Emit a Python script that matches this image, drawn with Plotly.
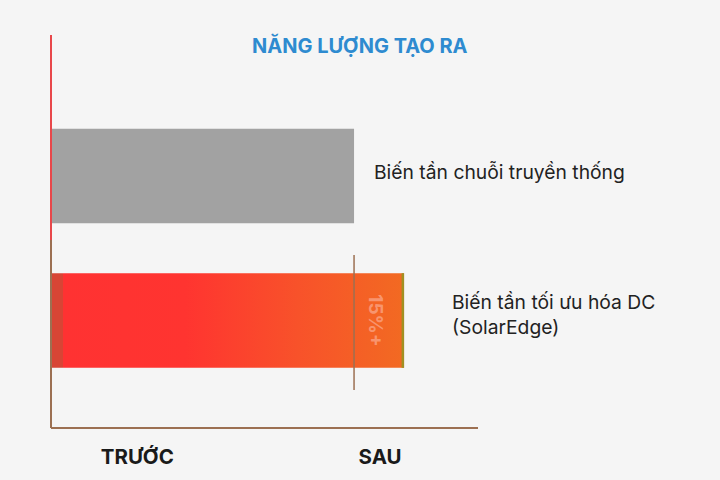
import plotly.graph_objects as go

# ---- data ----
categories = ["Biến tần tối ưu hóa DC<br>(SolarEdge)", "Biến tần chuỗi truyền thống"]
values = [116.5, 100]
baseline_value = 100
gain_label = "15%+"
x_tick_positions = [28.5, 108.6]
x_tick_labels = ["TRƯỚC", "SAU"]
title_text = "NĂNG LƯỢNG TẠO RA"

BG = "#F5F5F5"
BROWN = "#9C7052"
RED_LINE = "#E8474A"
BAR_W = 0.655
y_pos = [0, 1]

fig = go.Figure()

# gray bar (traditional)
fig.add_trace(go.Bar(
    x=[values[1]], y=[y_pos[1]], orientation="h", width=BAR_W,
    marker=dict(color="#A2A2A2", line=dict(width=0)), hoverinfo="skip"))

# gradient bar (SolarEdge) as filled polygon built from its value
v = values[0]
y0 = y_pos[0]
fig.add_trace(go.Scatter(
    x=[0, v, v, 0, 0],
    y=[y0 - BAR_W / 2, y0 - BAR_W / 2, y0 + BAR_W / 2, y0 + BAR_W / 2, y0 - BAR_W / 2],
    mode="lines", line=dict(width=0), fill="toself",
    fillgradient=dict(type="horizontal", colorscale=[
        [0, "#D84535"], [0.033, "#D84535"], [0.034, "#FF3232"],
        [0.38, "#FF3430"], [0.7, "#F8522A"], [1, "#F26A22"]]),
    hoverinfo="skip"))

split = (428 - 240) / 393
shapes = [
    # y-axis line: red upper part, brown lower part
    dict(type="line", xref="paper", yref="paper", x0=0, x1=0, y0=split, y1=1,
         line=dict(color=RED_LINE, width=2), layer="above"),
    dict(type="line", xref="paper", yref="paper", x0=0, x1=0, y0=0, y1=split,
         line=dict(color=BROWN, width=2), layer="above"),
    # x-axis line
    dict(type="line", xref="paper", yref="paper", x0=0, x1=1, y0=0, y1=0,
         line=dict(color=BROWN, width=2), layer="above"),
    # baseline marker at the traditional level
    dict(type="line", xref="x", yref="y", x0=baseline_value, x1=baseline_value,
         y0=-0.481, y1=0.453, line=dict(color=BROWN, width=1.5)),
    # olive edge at the end of the gradient bar
    dict(type="line", xref="x", yref="y", x0=v - 0.4, x1=v - 0.4,
         y0=y0 - BAR_W / 2, y1=y0 + BAR_W / 2, line=dict(color="#A09022", width=2.5)),
]

annotations = [
    dict(text=title_text, x=(360 - 51) / 427, y=1 - 10 / 393, xref="paper", yref="paper",
         showarrow=False, yanchor="middle", xanchor="center",
         font=dict(family="Inter", size=20, color="#2E8BD0", weight=700)),
    dict(text=categories[1], x=values[1], y=y_pos[1], xref="x", yref="y", xanchor="left",
         xshift=18, yshift=4, showarrow=False, align="left",
         font=dict(family="Inter", size=19.3, color="#222222")),
    dict(text=categories[0], x=values[0], y=y_pos[0], xref="x", yref="y", xanchor="left",
         xshift=46, yshift=6, showarrow=False, align="left",
         font=dict(family="Inter", size=19.3, color="#222222")),
    dict(text=gain_label, x=107, y=0.0, xref="x", yref="y", showarrow=False, textangle=90,
         font=dict(family="Inter", size=19, color="rgba(250,165,135,0.75)", weight=700)),
]

fig.update_layout(
    width=720, height=480,
    margin=dict(l=51, r=242, t=35, b=52, pad=0),
    paper_bgcolor=BG, plot_bgcolor=BG,
    showlegend=False,
    shapes=shapes,
    annotations=annotations,
    xaxis=dict(range=[0, 140.9], showgrid=False, zeroline=False, showline=False,
               tickvals=x_tick_positions, ticktext=x_tick_labels, ticks="",
               ticklabelstandoff=14,
               tickfont=dict(family="Inter", size=20.5, color="#1A1A1A", weight=700),
               fixedrange=True),
    yaxis=dict(range=[-0.744, 1.976], showgrid=False, zeroline=False, showline=False,
               showticklabels=False, ticks="", fixedrange=True),
)

fig.write_html("out.html", config={"displayModeBar": False},
               post_script="document.body.style.margin='0';document.body.style.background='#F5F5F5';")
